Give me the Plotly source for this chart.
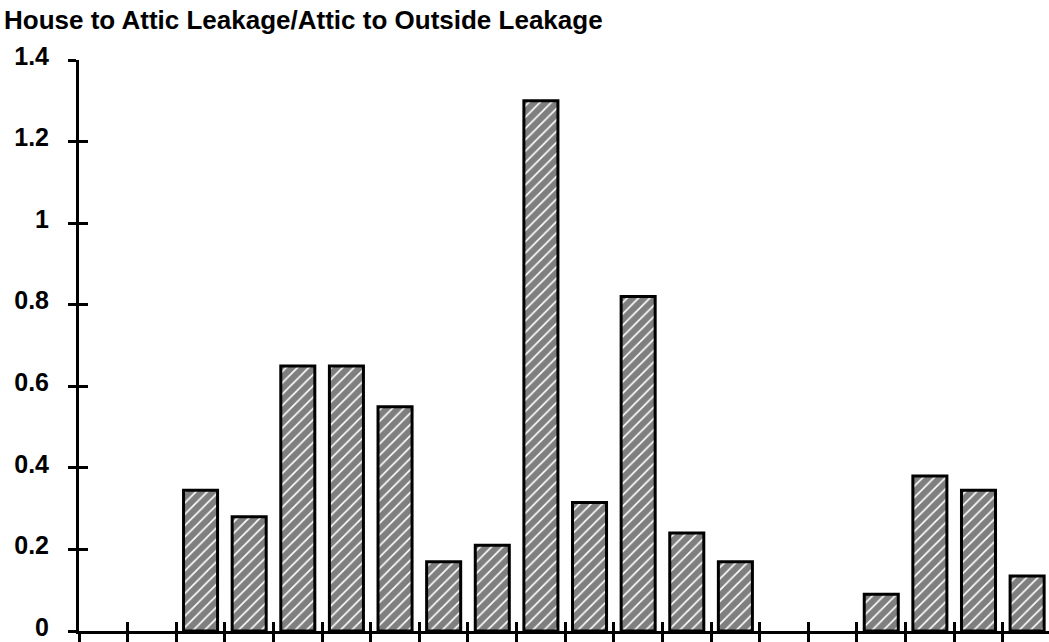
import plotly.graph_objects as go

# Data (20 houses, two with no value at the start and two in the middle)
houses = list(range(1, 21))
ratio = [None, None, 0.345, 0.28, 0.65, 0.65, 0.55, 0.17, 0.21, 1.30,
         0.315, 0.82, 0.24, 0.17, None, None, 0.09, 0.38, 0.345, 0.135]
y_ticks = [0, 0.2, 0.4, 0.6, 0.8, 1, 1.2, 1.4]
y_tick_text = ["0", "0.2", "0.4", "0.6", "0.8", "1", "1.2", "1.4"]
boundaries = [h - 0.5 for h in houses]

title_text = "House to Attic Leakage/Attic to Outside Leakage"
FONT = "Liberation Sans, Arial, sans-serif"

fig = go.Figure()
fig.add_trace(go.Bar(
    x=houses, y=ratio, width=0.7,
    marker=dict(
        color="white",
        line=dict(color="black", width=3),
        pattern=dict(shape="/", fgcolor="black", bgcolor="white", size=8, solidity=0.8),
    ),
    showlegend=False, hoverinfo="x+y",
))
# invisible trace to activate the overlay axes (used for inward-facing tick halves)
fig.add_trace(go.Scatter(x=[houses[0]], y=[0], xaxis="x2", yaxis="y2",
                         mode="markers", marker=dict(opacity=0), showlegend=False,
                         hoverinfo="skip"))

xr = [0.5, 20.45]
yr = [0, 1.4]
fig.update_layout(
    width=1049, height=642,
    margin=dict(l=79, r=0, t=60, b=11),
    paper_bgcolor="white", plot_bgcolor="white",
    font=dict(family=FONT, color="black"),
    title=dict(text=title_text, x=4 / 1049, xanchor="left", xref="container",
               y=1 - 20 / 642, yanchor="middle", yref="container",
               font=dict(family=FONT, size=26, color="black", weight="bold")),
    xaxis=dict(range=xr, tickmode="array", tickvals=boundaries, ticktext=[""] * len(boundaries),
               ticks="outside", ticklen=9, tickwidth=3, tickcolor="black", automargin=False,
               showline=True, linecolor="black", linewidth=3, showgrid=False, zeroline=False),
    yaxis=dict(range=yr, tickmode="array", tickvals=y_ticks, ticktext=y_tick_text,
               ticks="outside", ticklen=8, tickwidth=3, tickcolor="black", automargin=False,
               showline=True, linecolor="black", linewidth=3, showgrid=False, zeroline=False,
               ticklabelstandoff=14, ticklabeloverflow="allow", ticklabelshift=-4,
               tickfont=dict(family=FONT, size=25, color="black", weight="bold")),
    xaxis2=dict(range=xr, overlaying="x", anchor="y2", side="bottom", tickmode="array",
                tickvals=boundaries, ticktext=[""] * len(boundaries), ticks="inside",
                ticklen=9, tickwidth=3, tickcolor="black", showline=False, automargin=False,
                showgrid=False, zeroline=False),
    yaxis2=dict(range=yr, overlaying="y", anchor="x2", side="left", tickmode="array",
                tickvals=y_ticks, ticktext=[""] * len(y_ticks), ticks="inside",
                ticklen=9, tickwidth=3, tickcolor="black", showline=False, automargin=False,
                showgrid=False, zeroline=False),
)

fig.write_html("out.html", config={"displayModeBar": False},
               post_script="document.body.style.margin='0';")
